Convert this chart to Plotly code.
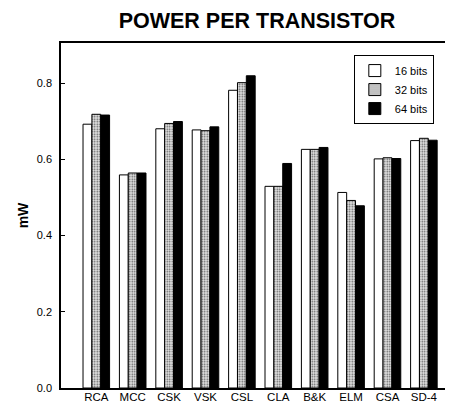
import plotly.graph_objects as go

categories = ["RCA", "MCC", "CSK", "VSK", "CSL", "CLA", "B&K", "ELM", "CSA", "SD-4"]
bits16 = [0.692, 0.559, 0.680, 0.677, 0.781, 0.529, 0.626, 0.513, 0.601, 0.649]
bits32 = [0.718, 0.564, 0.694, 0.675, 0.801, 0.529, 0.626, 0.492, 0.604, 0.655]
bits64 = [0.716, 0.564, 0.699, 0.685, 0.819, 0.589, 0.631, 0.478, 0.602, 0.650]
series_names = ["16 bits", "32 bits", "64 bits"]
y_ticks = [0.0, 0.2, 0.4, 0.6, 0.8]
y_tick_text = ["0.0", "0.2", "0.4", "0.6", "0.8"]

FONT = "Arial, Liberation Sans, Helvetica, sans-serif"

# The page body has an 8px default margin, so the figure is sized and placed
# to compensate for that offset inside the 453x404 window.
W, H = 445, 396

fig = go.Figure()
fig.add_trace(go.Bar(
    x=categories, y=bits16, name=series_names[0],
    marker=dict(color="white", line=dict(color="black", width=1)),
))
fig.add_trace(go.Bar(
    x=categories, y=bits32, name=series_names[1],
    marker=dict(color="#d8d8d8", line=dict(color="black", width=1),
                pattern=dict(shape=".", fgcolor="#555555", bgcolor="#e2e2e2",
                             size=2.5, solidity=0.3, fillmode="replace")),
))
fig.add_trace(go.Bar(
    x=categories, y=bits64, name=series_names[2],
    marker=dict(color="black", line=dict(color="black", width=1)),
))

fig.update_layout(
    width=W, height=H,
    margin=dict(l=53, r=0, t=35, b=16, autoexpand=False),
    paper_bgcolor="white", plot_bgcolor="white",
    barmode="group", bargap=0.27, bargroupgap=0,
    font=dict(family=FONT, color="black"),
    title=dict(text="<b>POWER PER TRANSISTOR</b>", font=dict(size=21.5, family=FONT, color="black"),
               x=0.5, xref="paper", xanchor="center",
               y=1 - 5 / H, yref="container", yanchor="top"),
    showlegend=True,
    legend=dict(x=0.747, y=0.965, xanchor="left", yanchor="top",
                bordercolor="black", borderwidth=1, bgcolor="white",
                font=dict(size=11, family=FONT), tracegroupgap=0,
                itemwidth=30),
    xaxis=dict(range=[-0.97, 9.8], showline=True, linecolor="black", linewidth=1.5,
               mirror=True, ticks="", showgrid=False, zeroline=False, automargin=False,
               tickfont=dict(size=11.5, family=FONT), ticklabelstandoff=-3),
    yaxis=dict(range=[0, 0.905], showline=True, linecolor="black", linewidth=1.5,
               mirror=False, ticks="inside", ticklen=4, tickcolor="black", automargin=False,
               tickvals=y_ticks, ticktext=y_tick_text, showgrid=False, zeroline=False,
               tickfont=dict(size=11, family=FONT), ticklabelstandoff=5,
               title=dict(text="<b>mW</b>", font=dict(size=14, family=FONT), standoff=5)),
)

fig.write_html("out.html")
